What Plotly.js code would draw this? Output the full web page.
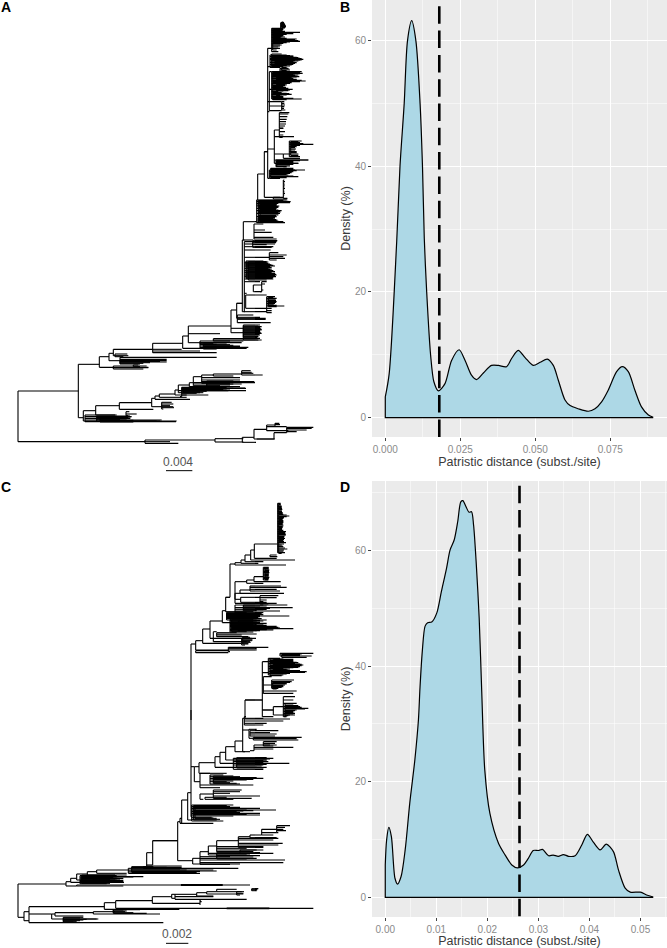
<!DOCTYPE html>
<html><head><meta charset="utf-8">
<script src="https://cdn.plot.ly/plotly-3.0.1.min.js"></script>
<style>html,body{margin:0;padding:0;background:#fff}</style></head>
<body><div id="chart" style="width:667px;height:948px"></div>
<script>
// Density curve of panel B
const distB = [0,.0013,.0038,.0049,.0063,.0074,.0088,.0102,.0116,.0124,.013,.0138,.0151,.0162,.0177,.0199,.0221,.0246,.0266,.0288,.0304,.0327,.0354,.0377,.0404,.0421,.0443,.0466,.0493,.0516,.054,.056,.0577,.0599,.0616,.0643,.0677,.0699,.0721,.0743,.0771,.079,.081,.0832,.0854,.0877,.0893];
const densB = [3.3,7,28,40,50,60,63.2,60,50,40,28.5,20,10,5.7,4.25,5.4,9.1,10.8,9.1,6.7,6.05,7.1,8.3,8.3,8.1,9.4,10.7,9.55,8.3,8.8,9.3,8.3,5.9,2.8,1.9,1.4,1,1.4,2.5,4.35,7.3,8.1,7.3,4.35,1.7,.4,.05];
// Density curve of panel D
const distD = [0,.00026,.0007,.0012,.0019,.0024,.0031,.0039,.0048,.0058,.0065,.0068,.00725,.0078,.0083,.0091,.0101,.011,.012,.0127,.0135,.0142,.0148,.0152,.0158,.0164,.0169,.0173,.0178,.0184,.0189,.0195,.0205,.0222,.0235,.0248,.0259,.0271,.028,.029,.03,.0308,.032,.0329,.0339,.0349,.0359,.0372,.0385,.0396,.0408,.0421,.0433,.0447,.0457,.047,.048,.05,.0512,.0525];
const densD = [5.6,9.9,12.1,10.5,3.3,2.3,3.6,8.2,16.3,23.8,30.7,36.2,42.5,46.9,47.5,47.6,49.2,52.9,56.9,60.1,61.8,65,68.4,68.6,67.6,66.6,66.7,64.4,58.1,48.3,35.6,22,14.5,9.3,7.3,5.6,5.1,5.6,6.7,8.1,8.1,8.3,7.2,7.3,7.1,7.4,7.1,7.2,9.05,10.9,9.5,8.2,9.2,7.9,4.7,1.6,.9,.9,.4,.06];
const thresholdB = 0.018, thresholdD = 0.0263;
const ticksB = [0,0.025,0.05,0.075], ticksBText = ['0.000','0.025','0.050','0.075'];
const ticksD = [0,0.01,0.02,0.03,0.04,0.05], ticksDText = ['0.00','0.01','0.02','0.03','0.04','0.05'];
const ticksY = [0,20,40,60];

// Trees: each node is [nodeDepth, tipRow1, tipDepth1, tipRow2, tipDepth2, ...], read in 1/3-pixel tree units.
const treeA_upper = [
[803,145,815,200,812,305,808,335,808,447,823,535,808,455,793],
[815,85,850,92,848,97,900,103,860,108,850,113,842,120,835,124,900,130,850,135,845,145,840,155,835],
[842,68,852,72,855,76,857,80,858,84,855,88,850],
[820,88,845,95,850,100,860,105,845,110,845,117,890,122,880,127,855],
[810,165,860,170,875,175,900,178,910,183,895,188,890,193,880,198,870,202,840],
[825,168,880,172,890,180,905,185,880,190,885,195,860],
[840,205,865,210,870,215,850],
[815,215,905,220,908,225,895,230,898,235,880,243,917,250,870,255,860,262,858,268,878,275,835,283,875,290,850,297,905],
[830,218,900,222,885,228,890,233,875,238,890,247,860,253,855,260,850,272,865,280,860,287,840,293,850],
[808,305,845,318,845,332,845,268,815,215,815],
[845,305,853,310,853,315,855,320,853,325,852,330,856],
[838,338,868,342,865,350,862,358,860,365,858,372,858,378,855,384,850],
[823,390,838,410,882,462,850,480,925,490,895],
[838,385,850,395,855,405,850,412,848],
[868,423,905,428,900,433,940,440,890,447,888,455,890,462,895,470,900],
[850,462,868,475,900],
[828,480,925,485,880,490,895,495,870,500,860],
[808,510,915,515,880,520,870,525,865,530,895,535,840],
[850,505,880,510,885],
[793,455,803,592,840],
[850,540,853,545,855,550,853,555,855,560,853,565,855,570,853,575,853,580,855,585,853,595,862],
[820,592,850,597,862],
[773,522,793,600,770],
[770,600,860,605,872,610,835,615,825,618,838,625,830,632,845,640,840,650,830,657,825,663,835,668,855],
[780,603,840,608,870,613,830,622,835,628,828,636,842,645,835,654,825,660,832,665,850],
[730,665,770,720,760],
[762,672,790,690,795,697,815,712,820,717,830]
];
const treeA_upperClumps = [
[845,66,850,70,853,74,855,78,857,82,856],
[818,87,840,90,845,94,855,99,870,101,880,106,850,111,855,115,860,119,885,122,895,126,870,128,860,132,840,138,840,141,835,150,830],
[815,162,845,167,870,169,880,173,895,176,905,180,900,182,885,186,880,189,880,192,870,195,875,197,860,200,850],
[845,203,860,207,868,212,860],
[818,217,890,221,900,224,880,227,885,231,890,234,870,237,870,240,890,241,905,245,900,248,875,252,860,257,855,260,845,265,865,270,870,273,850,278,845,281,868,285,860,288,845,292,840,295,880,299,860],
[872,425,895,431,910,436,900,443,885,450,885,458,890,466,895],
[812,505,860,508,880,512,890,518,875,523,860,528,880,533,860],
[830,482,900,487,880,493,880,498,870],
[775,601,850,604,865,607,850,612,830,616,830,620,835,623,825,627,828,630,835,634,840,638,835,642,835,647,828,652,825,655,820,659,828,662,830,666,845]
];
const treeA_lower = [
[727,0,733,190,710,215,735],
[733,5,830,12,825,20,820,30,812,52,808,68,800,72,810,78,825,85,805,92,820,98,815,105,830,110,828,117,820,125,780,160,740,215,800],
[745,65,800,70,805,75,815,82,815,88,810,95,825,102,820,108,825,114,815,120,800],
[758,2,832,8,828,14,800,22,815],
[808,38,835,45,860,50,850,55,855,60,830],
[760,135,785,155,785],
[785,125,800,132,795,140,785,150,790,155,780],
[737,165,800,205,800],
[800,170,825,175,830,180,825,185,830,190,825,195,820,198,853,205,815,212,815,218,815],
[710,190,727,235,797],
[693,210,710,265,730,278,780],
[712,225,760,232,780,238,797,248,812],
[730,255,780,260,785,265,782,270,785,275,780,280,785,285,780,290,775,295,780,300,785],
[565,258,693,281,660,308,600],
[600,303,690,308,725,313,650],
[640,296,770,300,775,303,730],
[548,288,565,325,740],
[600,310,640,318,720,322,745,314,690,325,690],
[458,310,548,328,545,333,600,338,650],
[340,328,458,347,385],
[345,342,382,350,370],
[327,340,340,362,360],
[360,352,650,358,500,362,500,366,500,372,420],
[298,350,327,382,445],
[235,373,298,533,250],
[340,378,440,383,445,387,430],
[400,375,415,380,420],
[54,453,235,605,435],
[250,512,287,543,530],
[255,525,350,530,395,535,390,540,485,545,528],
[290,528,390,532,385,538,360,543,470],
[287,497,358,525,345],
[358,488,455,508,460],
[378,515,388,522,410,527,385],
[455,475,465,500,520],
[485,487,515,492,520,497,510,503,522,507,490],
[465,468,478,478,570],
[478,462,525,472,560],
[525,450,535,465,625],
[535,435,568,452,738,458,610],
[568,428,580,440,700],
[580,410,605,428,765,432,725,437,660],
[605,405,640,413,720,420,720,425,763,430,690],
[640,402,725,408,700],
[725,397,755,400,760,405,788,392,752],
[545,442,680,445,738,448,670,452,685,455,600,460,590,465,560,470,540],
[435,600,645,605,510,610,535],
[645,596,730,606,730],
[727,592,762,607,768],
[762,568,800,597,825],
[800,555,825,560,860,572,865],
[825,550,838,554,840,558,825],
[860,565,935,562,940,570,920,575,890,578,860],
[822,578,860,597,770]
];
const treeA_lowerClumps = [
[738,63,790,66,805,70,800,74,812,76,820,80,810,83,808,87,815,90,815,94,815,97,812,100,825,103,828,107,825,112,820,115,818],
[805,172,820,177,828,182,828,187,828,192,822,196,830,200,830],
[730,258,775,263,780,268,785,272,780,277,782,283,778,288,775,292,772],
[610,312,680,316,700,320,720,324,700,327,650],
[550,443,660,447,680,450,690,454,620,458,600],
[620,423,700,427,740,432,700,435,690,440,720,444,735],
[300,530,370,534,392,537,380,541,400,543,480,546,400],
[360,360,430,364,480,368,450,370,430]
];
const treeC_upper = [
[833,70,842,75,843,80,845,85,846,90,845,95,846,100,848,108,868,115,850,125,850,130,848,135,850,140,848,148,846,155,858,160,856,165,858,170,852,175,855,182,850,188,858,195,845,200,850,207,862,213,850,218,855],
[763,192,833,235,830],
[810,225,830,230,832],
[752,210,763,240,885],
[735,225,752,245,790],
[723,240,735,250,775],
[705,248,723,255,858],
[690,252,705,352,677],
[790,262,806,266,806,270,808,274,806,278,808,282,806,285,806,288,805,292,808,296,806,300,805],
[762,290,790,305,842],
[740,300,762,310,790],
[705,305,740,370,830],
[750,318,843,322,860,328,830,333,840],
[720,330,750,340,852],
[705,340,720,358,722],
[722,352,780,367,800],
[780,347,835,353,830,360,800,365,790,372,805],
[677,352,690,395,760],
[705,375,862,383,878,393,840,388,800,398,790],
[667,392,677,428,780],
[680,400,785,405,750,410,780,414,760,408,868,420,800],
[695,420,770,425,760,430,800,433,760,437,720,442,835,446,880,450,820,455,740],
[715,423,780,427,770,435,790,440,760,448,800,452,770],
[630,423,667,475,768],
[640,455,650,485,740],
[650,458,710,462,770,465,725,470,745],
[725,475,755,480,758,485,750,490,745,495,735],
[608,447,630,490,725],
[587,482,608,510,685],
[685,502,805,506,770,510,770,515,690],
[573,492,587,720,573],
[587,512,685,518,685],
[787,545,805,578,806,660,735,640,790,690,820],
[840,522,905,528,935,520,940],
[805,535,840,540,870,545,880,550,885,555,910,560,900,565,850,570,865,575,920,580,870,585,850],
[820,538,880,548,895,553,905,558,890,563,880,568,860,573,900,578,860],
[815,605,875,610,860,615,855,620,850,625,835,600,882],
[790,590,815,615,815,633,890,640,880,600,787],
[735,660,787,715,790],
[850,670,890,680,900,685,925,690,890,695,880,700,885,705,870,710,860,660,880,650,885],
[820,680,850,705,885],
[787,690,820,710,820]
];
const treeC_upperClumps = [
[836,73,842,78,845,83,845,88,847,93,846,98,848,103,850,105,860,110,860,113,852,118,848,122,850,128,850,133,848,138,850,143,848,146,846,151,850,158,855,163,857,168,855,173,852,178,852,185,852,192,852,198,848,204,855,210,852,216,850,220,845],
[795,263,805,267,806,271,807,275,807,279,807,283,806,287,806,291,806,295,806,299,805],
[680,397,740,402,760,404,790,407,780,412,775,416,785],
[690,418,760,421,780,423,790,426,770,429,780,431,790,434,770,436,800,439,830,441,800,444,840,447,820,449,800,452,780,456,760],
[730,375,790,378,800,381,780,385,810,389,790,392,770],
[728,472,750,477,756,482,756,487,752,492,745],
[810,537,850,542,880,547,890,552,900,557,905,562,895,567,870,572,900,577,915,582,860,587,845],
[845,527,900,524,900,532,920],
[818,607,870,612,860,617,850,622,845,627,830],
[855,672,880,677,895,682,905,687,915,692,885,697,880,702,880,707,865,712,855]
];
const treeC_lower = [
[733,20,738,27,870,33,850,40,800,45,790],
[728,25,733,125,750,60,747],
[747,58,770,85,760],
[750,62,835,68,810,72,830,78,825],
[760,82,905,86,890,90,895],
[762,105,810,112,880,117,820,122,750],
[790,95,830,100,825,105,830,108,820],
[705,93,728,125,735],
[677,110,705,150,800],
[660,127,677,160,868],
[645,140,660,172,800],
[700,145,820,150,800,155,805,165,790,178,790,172,770],
[597,158,645,190,680],
[583,170,597,215,600],
[630,195,670,205,790,210,740,215,680,222,720,200,720],
[600,190,630,225,760,233,660],
[640,240,725,245,720,250,690,258,780,265,755],
[600,252,640,268,610],
[615,268,700,262,680],
[573,0,573,170,583,320,575],
[575,285,700,290,690,295,780,300,828,305,710,310,780,315,780,322,635,328,660,333,670],
[585,288,680,293,700,303,730,312,700,325,650],
[563,248,573,330,575],
[545,270,563,340,540],
[540,325,545,340,640],
[533,335,540,452,578,392,458],
[578,445,600,462,720],
[600,425,625,440,690,445,770,450,855,458,850,463,690],
[625,408,650,430,820,435,750],
[650,392,715,420,790,410,790,415,740,425,760],
[715,380,750,400,848,385,835,390,820,405,835,412,790],
[750,375,785,383,830],
[785,358,830,368,830,375,820],
[830,352,855,358,850,362,858,347,870,368,835],
[458,392,533,465,440],
[440,428,458,468,545],
[430,470,440,475,715,472,545],
[385,475,435,480,640,483,650,490,600,486,550],
[290,480,385,490,380],
[262,485,290,495,345],
[230,492,262,510,245],
[245,500,430,505,370,510,350,515,370,520,330,495,380,498,340,503,340,508,330,513,320,518,310],
[212,505,230,517,372],
[198,515,212,528,230],
[230,525,750,528,370],
[54,522,198,622,72],
[72,605,87,632,87],
[87,590,313,612,155,638,490],
[313,578,347,598,538],
[347,572,457,595,940],
[680,594,808,596,808],
[457,560,515,580,600],
[515,553,525,565,525],
[525,553,590,560,640,568,740],
[590,548,620,558,640],
[620,545,650,552,730],
[650,538,710,545,725],
[710,545,732,550,730,555,720],
[755,542,770,536,775,539,772],
[600,570,603,575,605,585,600],
[155,612,165,627,290],
[165,608,280,618,250],
[280,605,345,612,480],
[340,603,380,610,440,599,420],
[190,622,250,627,295,632,240,636,220]
];
const treeC_lowerClumps = [
[240,497,350,501,400,504,350,507,345,511,370,514,360,517,340,521,320],
[280,500,330,505,355,510,360,515,350],
[395,477,540,480,560,484,600,487,590,472,500,470,460],
[710,143,800,147,810,152,790,158,790,163,800,168,785,174,790],
[640,198,700,203,770,208,760,213,700,218,690,220,710],
[580,287,680,292,720,297,740,302,760,307,720,313,740,318,700,324,640,330,650],
[650,428,720,432,740,437,780,441,760,447,740],
[720,420,770,424,750,428,780],
[543,524,668,526,668],
[190,624,240,628,260,630,250,634,230],
[340,600,370,605,375,608,400]
];
const scaleA = {label:'0.004', from:498, to:577, row:1412};
const scaleC = {label:'0.002', from:498, to:565, row:1390};

function treeSegments(nodes, rowOffset){
  const x=[], y=[];
  for(const n of nodes){
    const d=n[0]; let lo=Infinity, hi=-Infinity;
    for(let i=1;i<n.length;i+=2){
      const r=n[i]+rowOffset;
      lo=Math.min(lo,r); hi=Math.max(hi,r);
      x.push(d,n[i+1],null); y.push(r,r,null);
    }
    x.push(d,d,null); y.push(lo,hi,null);
  }
  return {x,y};
}
const parts=(list)=>{const o={x:[],y:[]};for(const [n,off] of list){const s=treeSegments(n,off);o.x.push(...s.x);o.y.push(...s.y);}return o;};
const ta=parts([[treeA_upper,0],[treeA_upperClumps,0],[treeA_lower,720],[treeA_lowerClumps,720]]);
const tc=parts([[treeC_upper,0],[treeC_upperClumps,0],[treeC_lower,690],[treeC_lowerClumps,690]]);
const treeLine={color:'#000',width:1.1};
const traces=[
 {x:ta.x,y:ta.y,xaxis:'x',yaxis:'y',mode:'lines',line:treeLine,hoverinfo:'skip'},
 {x:[scaleA.from,scaleA.to],y:[scaleA.row,scaleA.row],xaxis:'x',yaxis:'y',mode:'lines',line:{color:'#000',width:1},hoverinfo:'skip'},
 {x:tc.x,y:tc.y,xaxis:'x3',yaxis:'y3',mode:'lines',line:treeLine,hoverinfo:'skip'},
 {x:[scaleC.from,scaleC.to],y:[scaleC.row,scaleC.row],xaxis:'x3',yaxis:'y3',mode:'lines',line:{color:'#000',width:1},hoverinfo:'skip'}
];
function density(dist,dens,thr,ax,ay,ymin,ymax){
  traces.push({x:dist,y:dens,xaxis:ax,yaxis:ay,mode:'lines',fill:'tozeroy',fillcolor:'#ADD8E6',line:{color:'#000',width:1.2,shape:'spline',smoothing:0.8},hoverinfo:'skip'});
  traces.push({x:[dist[0],dist[0],dist[dist.length-1]],y:[dens[0],0,0],xaxis:ax,yaxis:ay,mode:'lines',line:{color:'#000',width:1.2},hoverinfo:'skip'});
  traces.push({x:[thr,thr],y:[ymax,ymin],xaxis:ax,yaxis:ay,mode:'lines',line:{color:'#000',width:2.6,dash:'17.5px,6.8px'},hoverinfo:'skip'});
}
density(distB,densB,thresholdB,'x2','y2',-3.1,65.5);
density(distD,densD,thresholdD,'x4','y4',-3.4,71.2);

const H=948,W=667;
const tickFont={family:'Liberation Sans, Arial, sans-serif',size:10,color:'#8a8a8a'};
const titleFont={family:'Liberation Sans, Arial, sans-serif',size:12.5,color:'#3a3a3a'};
const hidden={visible:false,showgrid:false,zeroline:false,fixedrange:true};
function densX(vals,text,range,minorStep,anchor,dom){
 return {domain:dom,range:range,anchor:anchor,tickmode:'array',tickvals:vals,ticktext:text,ticks:'outside',ticklen:3,tickcolor:'#444',tickwidth:1,tickfont:tickFont,
  showgrid:true,gridcolor:'#fff',gridwidth:1,zeroline:false,showline:false,
  minor:{dtick:minorStep,tick0:0,showgrid:true,gridcolor:'#fff',gridwidth:0.5,ticks:''},
  title:{text:'Patristic distance (subst./site)',font:titleFont,standoff:2}};
}
function densY(range,anchor,dom){
 return {domain:dom,range:range,anchor:anchor,tickmode:'array',tickvals:ticksY,ticktext:ticksY.map(String),ticks:'outside',ticklen:3,tickcolor:'#444',tickwidth:1,tickfont:tickFont,
  showgrid:true,gridcolor:'#fff',gridwidth:1,zeroline:false,showline:false,
  minor:{dtick:10,tick0:0,showgrid:true,gridcolor:'#fff',gridwidth:0.5,ticks:''},
  title:{text:'Density (%)',font:titleFont,standoff:1}};
}
const lab=(t,x,y)=>({text:t,xref:'paper',yref:'paper',x:x/W,y:1-y/H,xanchor:'center',yanchor:'middle',showarrow:false,font:{family:'Liberation Sans, Arial, sans-serif',size:14,color:'#000',weight:700}});
const scaleLab=(t,x,y)=>({text:t,xref:'paper',yref:'paper',x:x/W,y:1-y/H,xanchor:'center',yanchor:'middle',showarrow:false,font:{family:'Liberation Sans, Arial, sans-serif',size:12,color:'#555'}});
const panelBg=(x0,x1,y0,y1)=>({type:'rect',layer:'below',xref:'paper',yref:'paper',x0:x0/W,x1:x1/W,y0:1-y1/H,y1:1-y0/H,fillcolor:'#EBEBEB',line:{width:0}});
const layout={width:W,height:H,margin:{l:0,r:0,t:0,b:0},paper_bgcolor:'#fff',plot_bgcolor:'rgba(0,0,0,0)',showlegend:false,
 shapes:[panelBg(372,667,0,437),panelBg(372,667,481,917)],
 xaxis:Object.assign({domain:[0,333.5/W],range:[0,1000.5],anchor:'y'},hidden),
 yaxis:Object.assign({domain:[1-480/H,1],range:[1440,0],anchor:'x'},hidden),
 xaxis3:Object.assign({domain:[0,333.5/W],range:[0,1000.5],anchor:'y3'},hidden),
 yaxis3:Object.assign({domain:[0,1-480/H],range:[1404,0],anchor:'x3'},hidden),
 xaxis2:densX(ticksB,ticksBText,[-0.00443,0.0939],0.0125,'y2',[372/W,1]),
 yaxis2:densY([-3.1,66.5],'x2',[1-437/H,1]),
 xaxis4:densX(ticksD,ticksDText,[-0.0026,0.0552],0.005,'y4',[372/W,1]),
 yaxis4:densY([-3.4,72],'x4',[1-917/H,1-481/H]),
 annotations:[lab('A',6,7),lab('B',345,7),lab('C',6,487),lab('D',345,487),scaleLab(scaleA.label,178,462),scaleLab(scaleC.label,177,934)]
};
Plotly.newPlot('chart',traces,layout,{displayModeBar:false,staticPlot:true});
</script></body></html>
